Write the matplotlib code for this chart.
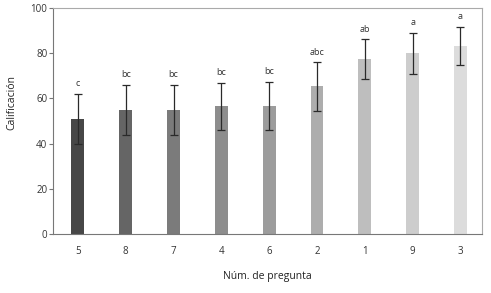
import matplotlib.pyplot as plt
import numpy as np

preguntas = ['5', '8', '7', '4', '6', '2', '1', '9', '3']
medias = [51, 55, 55, 56.5, 56.5, 65.3, 77.3, 80, 83.3]
errores = [11, 11, 11, 10.5, 10.7, 10.7, 8.8, 9, 8.5]
letras = ['c', 'bc', 'bc', 'bc', 'bc', 'abc', 'ab', 'a', 'a']
colores = ['#474747', '#656565', '#7b7b7b', '#8d8d8d', '#9c9c9c',
           '#adadad', '#bebebe', '#cdcdcd', '#dcdcdc']

plt.rcParams['font.family'] = ['Open Sans', 'DejaVu Sans']
fig = plt.figure(figsize=(4.91, 2.93), dpi=100)
ax = fig.add_axes([53/491, 1-234/293, (482-53)/491, (234-8)/293])

x = np.arange(len(preguntas))
ax.bar(x, medias, width=0.27, color=colores, zorder=2)
ax.errorbar(x, medias, yerr=errores, fmt='none', ecolor='#2a2a2a',
            elinewidth=0.9, capsize=3, capthick=0.9, zorder=3)
for xi, m, e, l in zip(x, medias, errores, letras):
    ax.text(xi, m + e + 2.5, l, ha='center', va='bottom', fontsize=6.5, color='#333333')

ax.set_xlim(-0.52, 8.45)
ax.set_ylim(0, 100)
ax.set_xticks(x)
ax.set_xticklabels(preguntas)
ax.set_yticks([0, 20, 40, 60, 80, 100])
for s in ax.spines.values():
    s.set_color('#aaaaaa')
    s.set_linewidth(0.8)
ax.spines['left'].set_color('#777777')
ax.spines['bottom'].set_color('#777777')
ax.tick_params(axis='x', length=0, pad=9, labelsize=7, colors='#333333')
ax.tick_params(axis='y', length=3, width=0.8, pad=1, labelsize=7, colors='#333333')
ax.tick_params(axis='y', color='#777777')
ax.set_xlabel('Núm. de pregunta', fontsize=7.5, color='#222222', labelpad=10)
ax.set_ylabel('Calificación', fontsize=7.5, color='#222222')
ax.yaxis.set_label_coords(-0.083, 0.58)

plt.savefig('out.png', dpi=100)
